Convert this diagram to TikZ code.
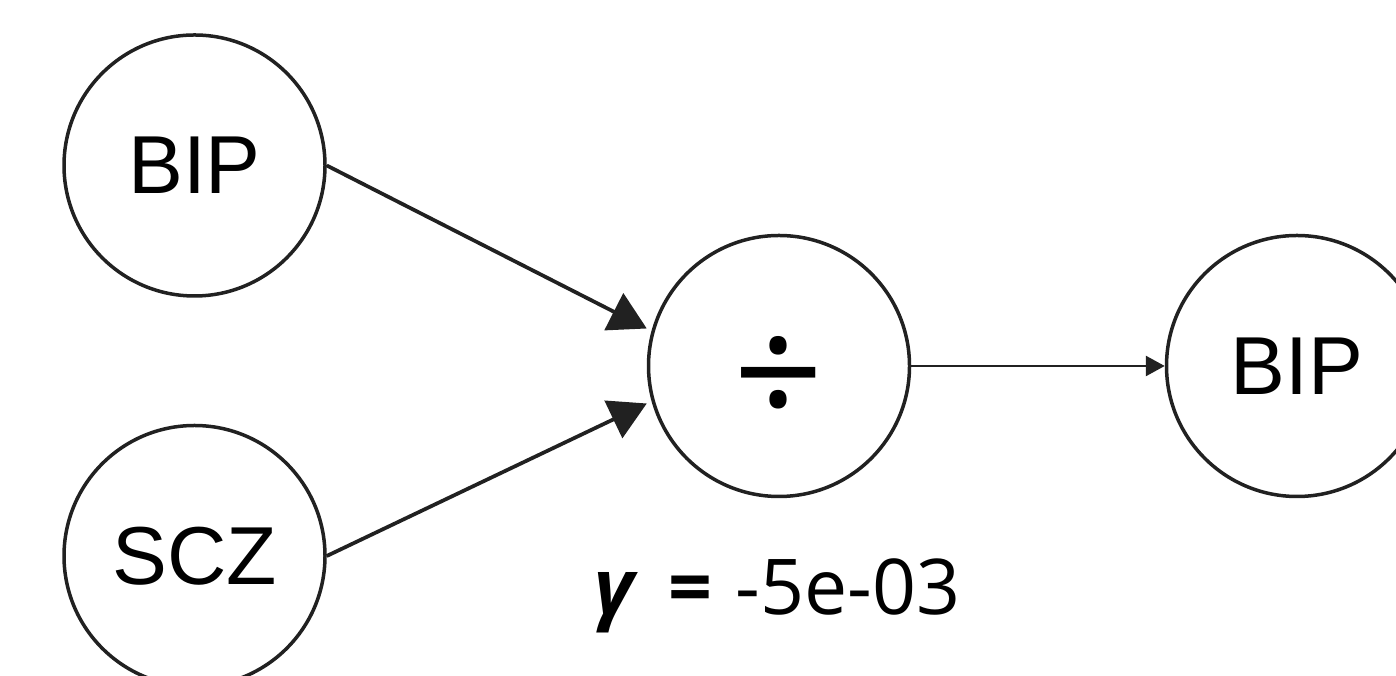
\documentclass[tikz,border=0pt]{standalone}
\usepackage{fontspec}
\usepackage{tikz}
\usetikzlibrary{arrows.meta}
\setmainfont{Liberation Sans}
\newfontfamily\labelfont{Open Sans}

\begin{document}
\begin{tikzpicture}[
  opnode/.style={circle, draw=black!87, line width=0.07cm, minimum size=5.22cm, inner sep=0pt,
    font=\fontsize{46.8}{50}\selectfont},
  bigarrow/.style={draw=black!87, line width=0.075cm, -{Triangle[length=0.74cm, width=0.82cm]}},
  smallarrow/.style={draw=black!87, line width=0.055cm, -{Triangle[length=0.38cm, width=0.4cm]}}
]
\useasboundingbox (0,0) rectangle (27.92,13.52);

\node[opnode] (bipA) at (3.89,10.21) {BIP};
\node[opnode] (scz) at (3.89,2.40) {SCZ};
\node[opnode] (div) at (15.58,6.20) {\labelfont\fontsize{90}{90}\selectfont\raisebox{-0.33cm}[\height][\depth]{÷}};
\node[opnode] (bipB) at (25.94,6.20) {BIP};

\node[anchor=base, inner sep=0pt, font=\labelfont\fontsize{43.8}{50}\selectfont] (gam) at (15.55,1.22)
  {{\bfseries\itshape γ}\hspace{0.45em}{\bfseries =}\hspace{0.3em}-5e-03};

\draw[bigarrow] (bipA.east) -- ([yshift=0.75cm]div.west);
\draw[bigarrow] (scz.east) -- ([yshift=-0.75cm]div.west);
\draw[smallarrow] (div.east) -- (bipB.west);
\end{tikzpicture}
\end{document}
